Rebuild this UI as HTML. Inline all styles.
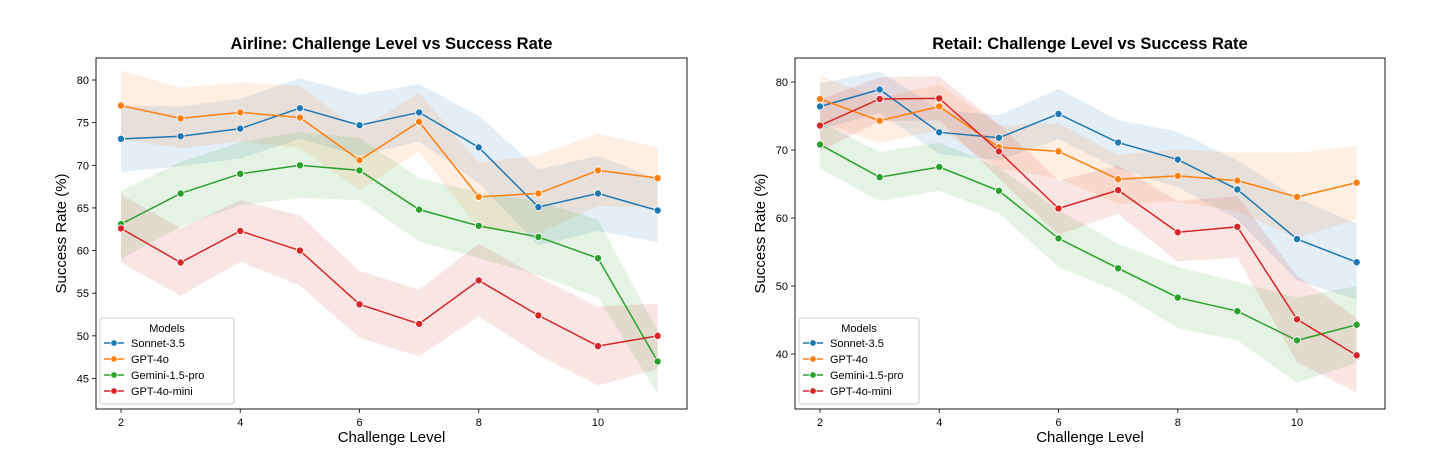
<!DOCTYPE html>
<html><head><meta charset="utf-8"><style>
body{margin:0;background:#fff;font-family:"Liberation Sans","DejaVu Sans",sans-serif}
svg{display:block}
</style></head><body>
<svg id="c" width="1456" height="458"></svg>
<script>
const levels=[2,3,4,5,6,7,8,9,10,11];
const xTicks=[2,4,6,8,10];
const models=["Sonnet-3.5","GPT-4o","Gemini-1.5-pro","GPT-4o-mini"];
const colors=["#1f77b4","#ff7f0e","#2ca02c","#d62728"];
// Airline
const airSonnet=[73.1,73.4,74.3,76.7,74.7,76.2,72.1,65.1,66.7,64.7];
const airSonnetLo=[69.2,69.9,70.8,73.1,71.1,72.8,67.9,60.6,62.3,61];
const airSonnetHi=[77,76.9,77.8,80.2,78.3,79.5,75.8,69.5,71.1,68.4];
const airGpt=[77,75.5,76.2,75.6,70.6,75.1,66.3,66.7,69.4,68.5];
const airGptLo=[73,72,72.8,72,67.1,71.6,62.5,62,65.2,65];
const airGptHi=[81.1,79.1,79.7,79.3,74.2,78.5,70.3,71.2,73.7,72.1];
const airGem=[63.1,66.7,69,70,69.4,64.8,62.9,61.6,59.1,47];
const airGemLo=[59,62.8,65.3,66.2,65.9,61.1,59.1,57.1,54.5,43.2];
const airGemHi=[67,70.4,72.7,73.9,73.2,68.5,66.8,65.8,63.6,50.6];
const airMini=[62.6,58.6,62.3,60,53.7,51.4,56.5,52.4,48.8,50];
const airMiniLo=[58.6,54.7,58.7,55.9,49.8,47.6,52.3,47.8,44.2,46.1];
const airMiniHi=[66.6,62.6,65.9,64.1,57.6,55.4,60.8,56.9,53.4,53.8];
const airYTicks=[45,50,55,60,65,70,75,80];
// Retail
const retSonnet=[76.4,78.9,72.6,71.8,75.3,71.1,68.6,64.2,56.9,53.5];
const retSonnetLo=[73,75.5,69.4,68.5,71.6,67.2,64.5,59.8,50.8,48];
const retSonnetHi=[79.8,81.6,75.9,75.1,79,74.4,72.7,68.5,62.9,59.2];
const retGpt=[77.5,74.3,76.4,70.4,69.8,65.7,66.2,65.5,63.1,65.2];
const retGptLo=[74.1,71,73,67.3,65.8,62.1,62.4,61,57,59.8];
const retGptHi=[80.9,77.6,79.7,73.6,73.9,69.3,70.1,69.6,69.6,70.6];
const retGem=[70.8,66.0,67.5,64.0,57.0,52.6,48.3,46.3,42.0,44.3];
const retGemLo=[67.3,62.5,64,60.7,52.8,49.2,43.8,42,35.8,38.7];
const retGemHi=[74.2,69.7,71.1,67.4,61.2,56.2,52.8,50.6,48.3,50];
const retMini=[73.6,77.5,77.6,69.8,61.4,64.1,57.9,58.7,45.1,39.8];
const retMiniLo=[69.8,74.2,74.4,65.8,57.5,60.6,53.6,54.2,38.8,34.3];
const retMiniHi=[77.4,80.7,80.8,73.8,65.5,67.7,62.5,63.2,51.5,45.3];
const retYTicks=[40,50,60,70,80];

const NS="http://www.w3.org/2000/svg";
const svg=document.getElementById('c');
function mk(t,a,p){const e=document.createElementNS(NS,t);for(const k in a)e.setAttribute(k,a[k]);(p||svg).appendChild(e);return e;}

function panel(cfg){
  const g=mk('g',{});
  
  
  const L=cfg.left,R=cfg.right,T=58,B=409;
  const xs=v=>cfg.x2+(v-2)*(cfg.x10-cfg.x2)/8;
  const ys=v=>cfg.yA+(v-cfg.vA)*(cfg.yB-cfg.yA)/(cfg.vB-cfg.vA);
  // bands
  cfg.series.forEach((s,i)=>{
    let d='';
    levels.forEach((l,j)=>{d+=(j?'L':'M')+xs(l)+','+ys(s.hi[j]);});
    for(let j=levels.length-1;j>=0;j--)d+='L'+xs(levels[j])+','+ys(s.lo[j]);
    const p=mk('path',{d:d+'Z',fill:colors[i],'fill-opacity':0.12},g);
    
    
  });
  cfg.series.forEach((s,i)=>{
    const pts=levels.map((l,j)=>xs(l)+','+ys(s.v[j])).join(' ');
    const pl=mk('polyline',{points:pts,fill:'none',stroke:colors[i],'stroke-width':1.5},g);
    
    
    levels.forEach((l,j)=>{
      const c=mk('circle',{cx:xs(l),cy:ys(s.v[j]),r:3.6,fill:colors[i],stroke:'#fff','stroke-width':0.8},g);
      
      
    });
  });
  const fr=mk('rect',{x:L,y:T,width:R-L,height:B-T,fill:'none',stroke:'#000','stroke-width':0.9},g);
  
  
  xTicks.forEach(t=>{
    mk('line',{x1:xs(t),x2:xs(t),y1:B,y2:B+4,stroke:'#000','stroke-width':0.8},g);
    const tx=mk('text',{x:xs(t),y:B+17,'font-size':11,'text-anchor':'middle'},g);
    tx.textContent=t;
    
    
  });
  cfg.yTicks.forEach(t=>{
    mk('line',{x1:L-4,x2:L,y1:ys(t),y2:ys(t),stroke:'#000','stroke-width':0.8},g);
    const tx=mk('text',{x:L-7,y:ys(t)+4,'font-size':11,'text-anchor':'end'},g);
    tx.textContent=t;
    
    
  });
  const ti=mk('text',{x:(L+R)/2,y:49,'font-size':16.5,'font-weight':'bold','text-anchor':'middle'},g);
  ti.textContent=cfg.title;
  
  
  const xl=mk('text',{x:(L+R)/2,y:442,'font-size':15,'text-anchor':'middle'},g);
  xl.textContent='Challenge Level';
  
  
  const yl=mk('text',{x:0,y:0,'font-size':15,'text-anchor':'middle',transform:`translate(${L-30},${(T+B)/2}) rotate(-90)`},g);
  yl.textContent='Success Rate (%)';
  
  
  // legend
  const lg=mk('g',{},g);
  
  
  const lx=L+4,ly=318;
  mk('rect',{x:lx,y:ly,width:cfg.legW,height:86,fill:'#fff','fill-opacity':0.8,stroke:'#ccc',rx:3},lg);
  const lt=mk('text',{x:lx+cfg.legW/2,y:ly+14,'font-size':11,'text-anchor':'middle'},lg);
  lt.textContent='Models';
  models.forEach((m,i)=>{
    const yy=ly+29+i*16;
    const le=mk('g',{},lg);
    
    
    mk('line',{x1:lx+4,x2:lx+24,y1:yy-4,y2:yy-4,stroke:colors[i],'stroke-width':1.5},le);
    mk('circle',{cx:lx+14,cy:yy-4,r:3.3,fill:colors[i],stroke:'#fff','stroke-width':0.8},le);
    const t=mk('text',{x:lx+31,y:yy,'font-size':11},le);
    t.textContent=m;
  });
}
panel({name:'airline-chart',title:'Airline: Challenge Level vs Success Rate',left:96,right:687,x2:121,x10:598,yA:80,vA:80,yB:378.5,vB:45,yTicks:airYTicks,legW:134,
  series:[{v:airSonnet,lo:airSonnetLo,hi:airSonnetHi},{v:airGpt,lo:airGptLo,hi:airGptHi},{v:airGem,lo:airGemLo,hi:airGemHi},{v:airMini,lo:airMiniLo,hi:airMiniHi}]});
panel({name:'retail-chart',title:'Retail: Challenge Level vs Success Rate',left:795,right:1385,x2:820,x10:1297,yA:82,vA:80,yB:354,vB:40,yTicks:retYTicks,legW:120,
  series:[{v:retSonnet,lo:retSonnetLo,hi:retSonnetHi},{v:retGpt,lo:retGptLo,hi:retGptHi},{v:retGem,lo:retGemLo,hi:retGemHi},{v:retMini,lo:retMiniLo,hi:retMiniHi}]});
</script>
</body></html>
